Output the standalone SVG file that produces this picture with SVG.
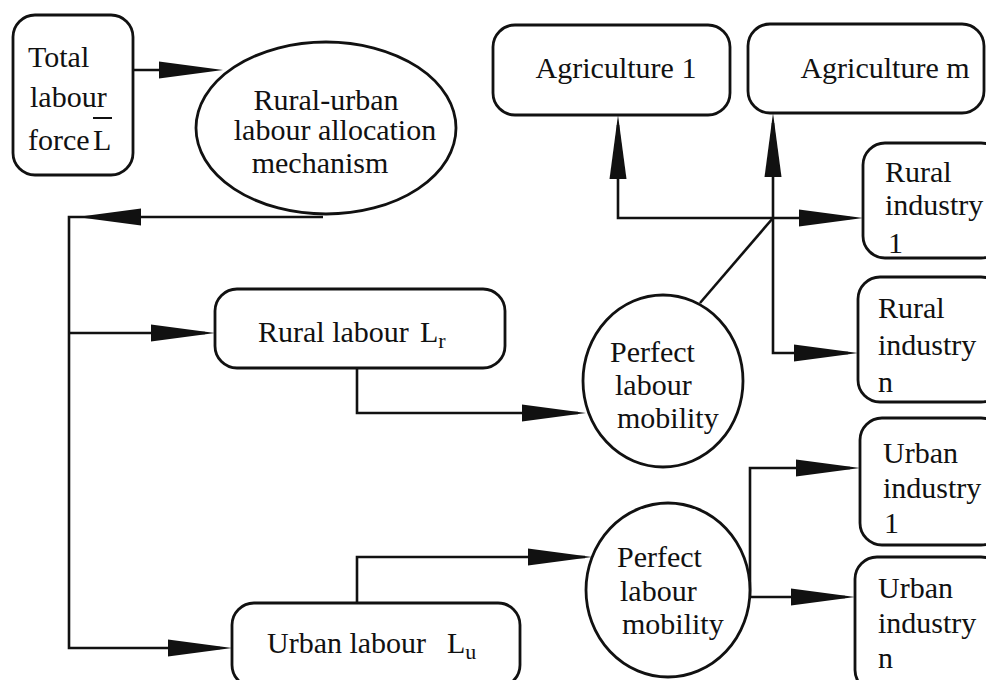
<svg xmlns="http://www.w3.org/2000/svg" xmlns:xlink="http://www.w3.org/1999/xlink" width="986" height="680" viewBox="0 0 986 680">
  <style>
    .box { fill: #ffffff; stroke: #111111; stroke-width: 2.8; }
    .wire { fill: none; stroke: #111111; stroke-width: 2.6; stroke-linejoin: miter; }
    .lbl { font-family: "Liberation Serif", "Times New Roman", serif; font-size: 30px; fill: #111111; }
    .sub { font-size: 22px; }
    .mid { text-anchor: middle; }
    .head { fill: #111111; }
  </style>
  <defs>
    <!-- long narrow arrowhead, tip at the origin, pointing along +x -->
    <path id="ah" class="head" d="M0,0 L-64,-8.5 L-64,8.5 Z"/>
  </defs>

  <rect width="986" height="680" fill="#ffffff"/>

  <g id="connectors">
    <path class="wire" d="M133,70 H205"/>
    <path class="wire" d="M323,217 H69 V648 H220"/>
    <path class="wire" d="M69,333 H205"/>
    <path class="wire" d="M357,368 V413 H578"/>
    <path class="wire" d="M357,603 V557 H585"/>
    <path class="wire" d="M618,125 V218 H850"/>
    <path class="wire" d="M773,123 V353 H848"/>
    <path class="wire" d="M700,303 L773,218"/>
    <path class="wire" d="M750,597 V468 H850"/>
    <path class="wire" d="M748,597 H845"/>

    <use xlink:href="#ah" transform="translate(223,70)"/>
    <use xlink:href="#ah" transform="translate(77,217) rotate(180)"/>
    <use xlink:href="#ah" transform="translate(215,333)"/>
    <use xlink:href="#ah" transform="translate(232,648)"/>
    <use xlink:href="#ah" transform="translate(586,413)"/>
    <use xlink:href="#ah" transform="translate(592,557)"/>
    <use xlink:href="#ah" transform="translate(618,115) rotate(-90)"/>
    <use xlink:href="#ah" transform="translate(773,113) rotate(-90)"/>
    <use xlink:href="#ah" transform="translate(863,218)"/>
    <use xlink:href="#ah" transform="translate(858,353)"/>
    <use xlink:href="#ah" transform="translate(860,468)"/>
    <use xlink:href="#ah" transform="translate(855,597)"/>
  </g>

  <g id="total-labour">
    <rect class="box" x="13" y="15" width="120" height="160" rx="22"/>
    <text class="lbl" x="28" y="67">Total</text>
    <text class="lbl" x="30" y="107">labour</text>
    <text class="lbl" x="28" y="150">force</text>
    <text class="lbl" x="93" y="150">L</text>
    <line x1="93" y1="118" x2="112" y2="118" stroke="#111111" stroke-width="2"/>
  </g>

  <g id="allocation">
    <ellipse class="box" cx="326" cy="128" rx="130" ry="86"/>
    <text class="lbl mid" x="326" y="110">Rural-urban</text>
    <text class="lbl mid" x="335" y="140">labour allocation</text>
    <text class="lbl mid" x="320" y="173">mechanism</text>
  </g>

  <g id="agriculture-1">
    <rect class="box" x="493" y="25" width="237" height="90" rx="22"/>
    <text class="lbl mid" x="616" y="78">Agriculture 1</text>
  </g>

  <g id="agriculture-m">
    <rect class="box" x="748" y="24" width="236" height="89" rx="22"/>
    <text class="lbl mid" x="885" y="78">Agriculture m</text>
  </g>

  <g id="rural-labour">
    <rect class="box" x="215" y="289" width="290" height="79" rx="22"/>
    <text class="lbl" x="258" y="342">Rural labour</text>
    <text class="lbl" x="420" y="342">L<tspan class="sub" dy="6">r</tspan></text>
  </g>

  <g id="urban-labour">
    <rect class="box" x="232" y="603" width="288" height="84" rx="22"/>
    <text class="lbl" x="267" y="653">Urban labour</text>
    <text class="lbl" x="447" y="653">L<tspan class="sub" dy="6">u</tspan></text>
  </g>

  <g id="mobility-rural">
    <ellipse class="box" cx="663" cy="381" rx="80" ry="86"/>
    <text class="lbl" x="610" y="362">Perfect</text>
    <text class="lbl" x="615" y="395">labour</text>
    <text class="lbl" x="617" y="428">mobility</text>
  </g>

  <g id="mobility-urban">
    <ellipse class="box" cx="668" cy="590" rx="82" ry="87"/>
    <text class="lbl" x="617" y="567">Perfect</text>
    <text class="lbl" x="620" y="601">labour</text>
    <text class="lbl" x="622" y="634">mobility</text>
  </g>

  <g id="rural-industry-1">
    <rect class="box" x="863" y="143" width="140" height="115" rx="22"/>
    <text class="lbl" x="885" y="182">Rural</text>
    <text class="lbl" x="885" y="215">industry</text>
    <text class="lbl" x="888" y="253">1</text>
  </g>

  <g id="rural-industry-n">
    <rect class="box" x="858" y="277" width="145" height="125" rx="22"/>
    <text class="lbl" x="878" y="318">Rural</text>
    <text class="lbl" x="878" y="355">industry</text>
    <text class="lbl" x="878" y="392">n</text>
  </g>

  <g id="urban-industry-1">
    <rect class="box" x="860" y="418" width="143" height="127" rx="22"/>
    <text class="lbl" x="883" y="463">Urban</text>
    <text class="lbl" x="883" y="498">industry</text>
    <text class="lbl" x="884" y="533">1</text>
  </g>

  <g id="urban-industry-n">
    <rect class="box" x="855" y="557" width="148" height="135" rx="22"/>
    <text class="lbl" x="878" y="598">Urban</text>
    <text class="lbl" x="878" y="633">industry</text>
    <text class="lbl" x="878" y="668">n</text>
  </g>
</svg>
